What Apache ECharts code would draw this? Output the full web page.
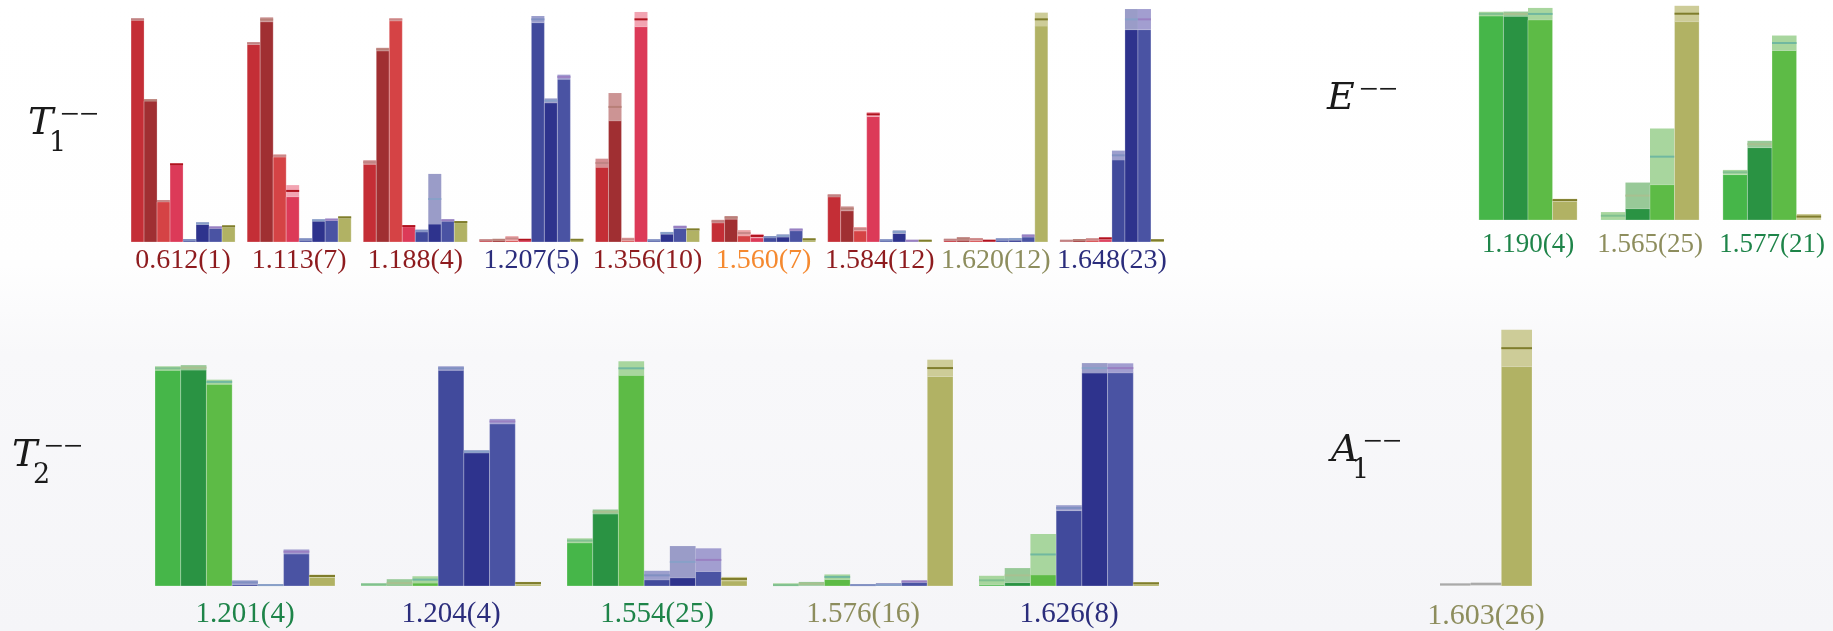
<!DOCTYPE html>
<html>
<head>
<meta charset="utf-8">
<script src="https://cdn.jsdelivr.net/npm/echarts@6/dist/echarts.min.js"></script>
<style>
  html, body { margin: 0; padding: 0; }
  #chart { width: 1833px; height: 631px; }
</style>
</head>
<body>
<div id="chart"></div>
<script>
  // ---- data ----
  // T1-- : 9 states, 8 operator bars each
  const t1Labels = ['0.612(1)', '1.113(7)', '1.188(4)', '1.207(5)', '1.356(10)', '1.560(7)', '1.584(12)', '1.620(12)', '1.648(23)'];
  const t1Values = [
    [0.994, 0.633, 0.183, 0.347, 0.009, 0.083, 0.065, 0.070],
    [0.887, 0.993, 0.385, 0.228, 0.012, 0.097, 0.100, 0.110],
    [0.356, 0.860, 0.993, 0.071, 0.050, 0.192, 0.097, 0.089],
    [0.008, 0.010, 0.016, 0.010, 0.994, 0.631, 0.737, 0.010],
    [0.353, 0.603, 0.012, 0.994, 0.008, 0.040, 0.067, 0.056],
    [0.092, 0.109, 0.040, 0.027, 0.022, 0.028, 0.055, 0.012],
    [0.207, 0.149, 0.058, 0.570, 0.008, 0.045, 0.006, 0.006],
    [0.010, 0.015, 0.012, 0.006, 0.012, 0.013, 0.028, 0.994],
    [0.006, 0.009, 0.012, 0.016, 0.387, 0.994, 0.994, 0.008]
  ];
  const t1Errors = [
    [0.004, 0.004, 0.004, 0.003, 0.004, 0.005, 0.004, 0.004],
    [0.005, 0.010, 0.006, 0.026, 0.004, 0.004, 0.004, 0.004],
    [0.009, 0.007, 0.006, 0.004, 0.005, 0.112, 0.004, 0.004],
    [0.003, 0.003, 0.010, 0.003, 0.015, 0.010, 0.010, 0.003],
    [0.019, 0.062, 0.007, 0.033, 0.003, 0.005, 0.006, 0.004],
    [0.007, 0.007, 0.013, 0.009, 0.003, 0.006, 0.005, 0.004],
    [0.006, 0.010, 0.009, 0.010, 0.003, 0.007, 0.003, 0.003],
    [0.004, 0.007, 0.006, 0.003, 0.004, 0.005, 0.006, 0.030],
    [0.003, 0.003, 0.004, 0.006, 0.021, 0.046, 0.046, 0.003]
  ];

  // E-- : 3 states, 4 bars
  const eLabels = ['1.190(4)', '1.565(25)', '1.577(21)'];
  const eValues = [
    [0.963, 0.963, 0.963, 0.093],
    [0.020, 0.114, 0.296, 0.964],
    [0.223, 0.354, 0.827, 0.016]
  ];
  const eErrors = [
    [0.010, 0.011, 0.028, 0.006],
    [0.017, 0.061, 0.131, 0.037],
    [0.011, 0.016, 0.035, 0.012]
  ];

  // T2-- : 5 states, 7 bars
  const t2Labels = ['1.201(4)', '1.204(4)', '1.554(25)', '1.576(16)', '1.626(8)'];
  const t2Values = [
    [0.959, 0.962, 0.899, 0.016, 0.004, 0.151, 0.044],
    [0.007, 0.013, 0.028, 0.959, 0.592, 0.725, 0.013],
    [0.200, 0.327, 0.959, 0.047, 0.106, 0.115, 0.031],
    [0.004, 0.010, 0.040, 0.004, 0.005, 0.020, 0.960],
    [0.025, 0.047, 0.139, 0.344, 0.960, 0.960, 0.012]
  ];
  const t2Errors = [
    [0.009, 0.011, 0.010, 0.009, 0.004, 0.010, 0.006],
    [0.004, 0.017, 0.015, 0.009, 0.006, 0.011, 0.005],
    [0.010, 0.010, 0.031, 0.020, 0.070, 0.051, 0.009],
    [0.008, 0.008, 0.011, 0.003, 0.008, 0.004, 0.037],
    [0.020, 0.032, 0.090, 0.012, 0.022, 0.021, 0.004]
  ];

  // A1-- : 1 state, 3 bars
  const a1Labels = ['1.603(26)'];
  const a1Values = [[0.006, 0.008, 0.929]];
  const a1Errors = [[0.004, 0.006, 0.072]];

  // ---- styles ----
  const RED = '#8e1b1e', BLUE = '#2b2d7c', ORANGE = '#f5892f', OLIVE = '#8d8d5d', GREEN = '#1e8449';
  const t1LabelColors = [RED, RED, RED, BLUE, RED, ORANGE, RED, OLIVE, BLUE];
  const eLabelColors = [GREEN, OLIVE, GREEN];
  const t2LabelColors = [GREEN, BLUE, GREEN, OLIVE, BLUE];
  const a1LabelColors = [OLIVE];

  // [bar, error band, centre line]
  const C = {
    red1:   ['#c42e36', '#d49093', '#c08484'],
    red2:   ['#a02f32', '#cc9494', '#b88078'],
    red3:   ['#d54345', '#eaa2a4', '#c88888'],
    red4:   ['#dc3a58', '#f2a4b2', '#b0121e'],
    blue1:  ['#414a9c', '#9c9fcd', '#8090c2'],
    blue2:  ['#2e338d', '#9a9cc8', '#88a0c8'],
    blue3:  ['#4a53a3', '#a29ed0', '#9a80c2'],
    olive:  ['#b1b264', '#cdcc98', '#7f7d2c'],
    green1: ['#46b649', '#a8d69e', '#80c090'],
    green2: ['#2a9343', '#98c998', '#a8c090'],
    green3: ['#5dbb46', '#a8d69e', '#70b8a0'],
    gray:   ['#c4c4c4', '#d2d2d2', '#aaaaaa']
  };
  const t1Slots = [C.red1, C.red2, C.red3, C.red4, C.blue1, C.blue2, C.blue3, C.olive];
  const eSlots = [C.green1, C.green2, C.green3, C.olive];
  const t2Slots = [C.green1, C.green2, C.green3, C.blue1, C.blue2, C.blue3, C.olive];
  const a1Slots = [C.gray, C.gray, C.olive];

  const SERIF = 'Liberation Serif';
  const TITLE_FONT = 'DejaVu Serif';

  function toData(values, errors) {
    const out = [];
    values.forEach((row, g) => {
      row.forEach((v, s) => out.push([g, s, v, errors[g][s]]));
    });
    return out;
  }

  // bars of one group sit side by side, filling groupFrac of the category band
  function barRenderer(slots, groupFrac) {
    return function (params, api) {
      const g = api.value(0), s = api.value(1), v = api.value(2), e = api.value(3);
      const band = api.size([1, 0])[0];
      const gw = band * groupFrac;
      const bw = gw / slots.length;
      const base = api.coord([g, 0]);
      const x = base[0] - gw / 2 + s * bw;
      const yLo = api.coord([g, Math.max(v - e, 0)])[1];
      const yHi = api.coord([g, v + e])[1];
      const yMid = api.coord([g, v])[1];
      const col = slots[s];
      return {
        type: 'group',
        children: [
          { type: 'rect', shape: { x: x, y: yLo, width: bw, height: base[1] - yLo },
            style: { fill: col[0], stroke: 'rgba(255,255,255,0.25)', lineWidth: 1 } },
          { type: 'rect', shape: { x: x, y: yHi, width: bw, height: Math.max(yLo - yHi, 1) },
            style: { fill: col[1] } },
          { type: 'line', shape: { x1: x, y1: yMid, x2: x + bw, y2: yMid },
            style: { stroke: col[2], lineWidth: 2 } }
        ]
      };
    };
  }

  function catAxis(idx, labels, colors, size, margin) {
    return {
      type: 'category', gridIndex: idx,
      data: labels.map((l, i) => ({ value: l, textStyle: { color: colors[i] } })),
      axisLine: { show: false }, axisTick: { show: false },
      axisLabel: { interval: 0, fontFamily: SERIF, fontSize: size, margin: margin }
    };
  }
  function valAxis(idx) {
    return { type: 'value', gridIndex: idx, min: 0, max: 1, show: false, splitLine: { show: false } };
  }

  // italic letter, subscript below-right, two minus signs above the subscript
  function title(x, y, main, sub) {
    return [
      { type: 'text', x: x, y: y, style: { text: main, fontFamily: TITLE_FONT, fontStyle: 'italic', fontSize: 38, fill: '#1a1a1a', verticalAlign: 'middle' } },
      { type: 'text', x: x + 21, y: y + 20, style: { text: sub, fontFamily: TITLE_FONT, fontSize: 27, fill: '#1a1a1a', verticalAlign: 'middle' } },
      { type: 'text', x: x + 32, y: y - 8, style: { text: '\u2212\u2212', fontFamily: SERIF, fontSize: 34, fill: '#1a1a1a', verticalAlign: 'middle' } }
    ];
  }

  const chart = echarts.init(document.getElementById('chart'));

  const option = {
    animation: false,
    backgroundColor: {
      type: 'linear', x: 0, y: 0, x2: 0, y2: 1,
      colorStops: [
        { offset: 0, color: '#ffffff' },
        { offset: 0.42, color: '#fefefe' },
        { offset: 0.56, color: '#f8f8fa' },
        { offset: 1, color: '#f5f5f8' }
      ]
    },
    grid: [
      { left: 125, top: 18, width: 1045, height: 224 },
      { left: 1467, top: 6, width: 369, height: 214 },
      { left: 142, top: 359, width: 1030, height: 227 },
      { left: 1426, top: 330, width: 120, height: 258 }
    ],
    xAxis: [
      catAxis(0, t1Labels, t1LabelColors, 28, 5),
      catAxis(1, eLabels, eLabelColors, 27, 11),
      catAxis(2, t2Labels, t2LabelColors, 29, 14),
      catAxis(3, a1Labels, a1LabelColors, 30, 15)
    ],
    yAxis: [valAxis(0), valAxis(1), valAxis(2), valAxis(3)],
    series: [
      { type: 'custom', xAxisIndex: 0, yAxisIndex: 0, clip: false, renderItem: barRenderer(t1Slots, 104 / 116.1), encode: { x: 0, y: 2 }, data: toData(t1Values, t1Errors) },
      { type: 'custom', xAxisIndex: 1, yAxisIndex: 1, clip: false, renderItem: barRenderer(eSlots, 99 / 123), encode: { x: 0, y: 2 }, data: toData(eValues, eErrors) },
      { type: 'custom', xAxisIndex: 2, yAxisIndex: 2, clip: false, renderItem: barRenderer(t2Slots, 180 / 206), encode: { x: 0, y: 2 }, data: toData(t2Values, t2Errors) },
      { type: 'custom', xAxisIndex: 3, yAxisIndex: 3, clip: false, renderItem: barRenderer(a1Slots, 92 / 120), encode: { x: 0, y: 2 }, data: toData(a1Values, a1Errors) }
    ],
    graphic: [].concat(
      title(28, 124, 'T', '1'),
      title(1327, 99, 'E', ''),
      title(12, 456, 'T', '2'),
      title(1331, 451, 'A', '1')
    )
  };

  chart.setOption(option);
</script>
</body>
</html>
